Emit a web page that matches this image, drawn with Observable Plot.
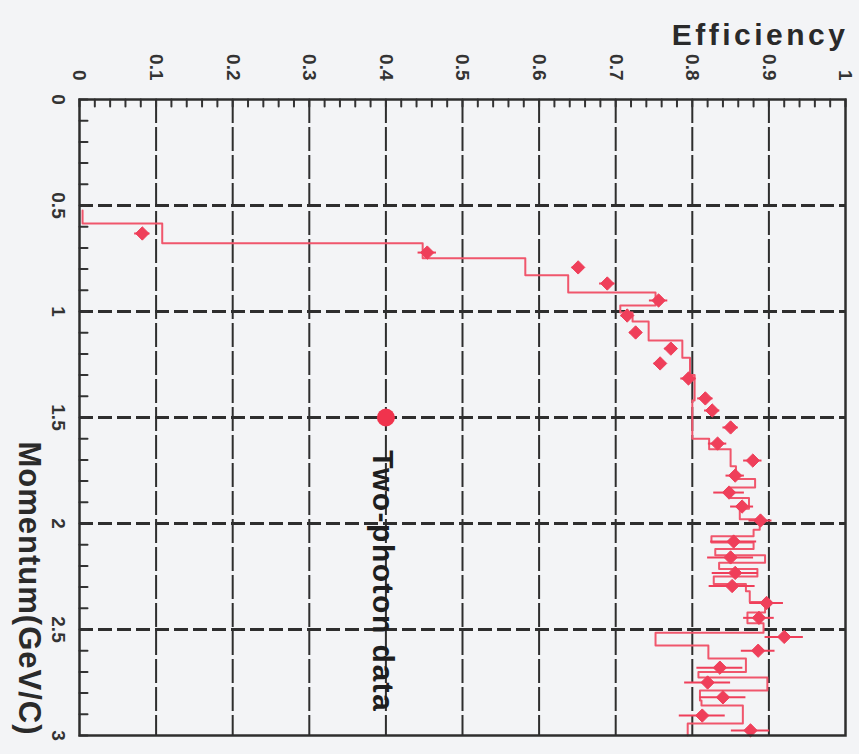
<!DOCTYPE html>
<html><head><meta charset="utf-8">
<script src="https://cdn.jsdelivr.net/npm/d3@7"></script>
<script src="https://cdn.jsdelivr.net/npm/@observablehq/plot@0.6"></script>
<style>html,body{margin:0;padding:0;background:#f3f4f6;overflow:hidden;}</style>
</head><body><div id="chart"></div>
<script>
// Axis ticks and labels
const effTicks = [0, 0.1, 0.2, 0.3, 0.4, 0.5, 0.6, 0.7, 0.8, 0.9, 1];
const effTickLabels = ["0", "0.1", "0.2", "0.3", "0.4", "0.5", "0.6", "0.7", "0.8", "0.9", "1"];
const momTicks = [0, 0.5, 1, 1.5, 2, 2.5, 3];
const momTickLabels = ["0", "0.5", "1", "1.5", "2", "2.5", "3"];
const effGrid = [0.1, 0.2, 0.3, 0.4, 0.5, 0.6, 0.7, 0.8, 0.9];
const momGrid = [0.5, 1, 1.5, 2, 2.5];
const xTitle = "Efficiency";
const yTitle = "Momentum(GeV/C)";

// Histogram (step line): bin edges in momentum and efficiency per bin
const histEdges = [0.524, 0.585, 0.678, 0.749, 0.829, 0.910, 0.972, 1.005, 1.047, 1.137, 1.218,
  1.300, 1.420, 1.600, 1.650, 1.730, 1.790, 1.830, 1.880, 1.930, 1.980, 2.030, 2.060,
  2.090, 2.120, 2.150, 2.185, 2.215, 2.250, 2.285, 2.320, 2.370, 2.420, 2.470, 2.515,
  2.575, 2.637, 2.700, 2.726, 2.788, 2.835, 2.858, 2.943, 3.0];
const histEff = [0.004, 0.108, 0.448, 0.582, 0.638, 0.752, 0.706, 0.722, 0.743, 0.787,
  0.797, 0.803, 0.800, 0.822, 0.850, 0.857, 0.882, 0.850, 0.874, 0.862, 0.888, 0.880,
  0.825, 0.880, 0.830, 0.895, 0.835, 0.885, 0.828, 0.870, 0.875, 0.895, 0.872, 0.893,
  0.752, 0.821, 0.870, 0.808, 0.898, 0.810, 0.812, 0.866, 0.794];

// Data points with efficiency errors
const markerP = [0.632, 0.722, 0.792, 0.868, 0.948, 1.019, 1.099, 1.175, 1.245, 1.316, 1.410,
  1.467, 1.547, 1.623, 1.703, 1.774, 1.854, 1.920, 1.986, 2.085, 2.160, 2.233, 2.295,
  2.375, 2.445, 2.535, 2.600, 2.680, 2.750, 2.820, 2.906, 2.976];
const markerEff = [0.082, 0.454, 0.651, 0.689, 0.756, 0.715, 0.726, 0.772, 0.758, 0.795, 0.817,
  0.826, 0.850, 0.833, 0.879, 0.856, 0.848, 0.865, 0.889, 0.854, 0.850, 0.856, 0.852,
  0.897, 0.887, 0.920, 0.886, 0.836, 0.820, 0.840, 0.813, 0.876];
const markerErr = [0.010, 0.012, 0.008, 0.010, 0.012, 0.008, 0.008, 0.008, 0.008, 0.010, 0.010,
  0.010, 0.010, 0.012, 0.012, 0.012, 0.020, 0.015, 0.015, 0.030, 0.030, 0.030, 0.030,
  0.022, 0.020, 0.025, 0.022, 0.030, 0.030, 0.030, 0.030, 0.025];

// Legend
const legendLabel = "Two-photon data";
const legendEff = 0.4, legendP = 1.5, legendTextP = 1.655;

// ---- build tables ----
const histPts = [];
histEff.forEach((e, i) => { histPts.push({e, p: histEdges[i]}); histPts.push({e, p: histEdges[i + 1]}); });
const markers = markerP.map((p, i) => ({p, e: markerEff[i], err: markerErr[i]}));
const effLabelData = effTicks.map((v, i) => ({v, t: effTickLabels[i]}));
const momLabelData = momTicks.map((v, i) => ({v, t: momTickLabels[i]}));
const effMinor = d3.range(0, 51).map(i => ({v: i / 50, a: 0}));
const momMinor = d3.range(0, 31).map(i => ({v: i / 10, a: 0}));
const tickShape = {draw(ctx, l) { ctx.moveTo(0, 0); ctx.lineTo(0, -l); }};

const W = 859, H = 754, mT = 99, mB = 19, mL = 79, mR = 14;
const red = "#ef3f5a", redLine = "#f0566c", ink = "#2e2e2e";
const font = "Liberation Sans, Arial, sans-serif";

const chart = Plot.plot({
  width: W, height: H,
  marginTop: mT, marginBottom: mB, marginLeft: mL, marginRight: mR,
  style: {background: "#f3f4f6", fontFamily: font, overflow: "visible"},
  x: {domain: [0, 1], axis: null},
  y: {domain: [0, 3], reverse: true, axis: null},
  marks: [
    Plot.ruleX(effGrid, {stroke: ink, strokeWidth: 2, strokeDasharray: "24,4"}),
    Plot.ruleY(momGrid, {stroke: ink, strokeWidth: 3, strokeDasharray: "14,5"}),
    Plot.vector(effMinor, {x: "v", y: "a", length: 7, rotate: 180, anchor: "start", shape: tickShape,
      stroke: "#333", strokeWidth: 2}),
    Plot.vector(momMinor, {x: "a", y: "v", length: 8, rotate: 90, anchor: "start", shape: tickShape,
      stroke: "#333", strokeWidth: 2}),
    Plot.line(histPts, {x: "e", y: "p", stroke: redLine, strokeWidth: 2}),
    Plot.ruleY(markers, {y: "p", x1: d => d.e - d.err, x2: d => d.e + d.err, stroke: red, strokeWidth: 2}),
    Plot.ruleX(markers, {x: "e", y1: d => d.p - 0.02, y2: d => d.p + 0.02, stroke: red, strokeWidth: 2}),
    Plot.dot(markers, {x: "e", y: "p", symbol: "diamond2", r: 6, fill: red, stroke: red, strokeWidth: 1}),
    Plot.frame({stroke: ink, strokeWidth: 2.5}),
    Plot.dot([0], {x: () => legendEff, y: () => legendP, r: 9, fill: "#f0334d"}),
    Plot.text([legendLabel], {x: () => legendEff, y: () => legendTextP, text: d => d, rotate: 90,
      textAnchor: "start", lineAnchor: "middle", dx: -3, fontSize: 30, fontWeight: "bold", fill: "#1e1e1e"}),
    Plot.text(effLabelData, {x: "v", text: "t", frameAnchor: "top", dy: -19, rotate: 90,
      textAnchor: "end", lineAnchor: "middle", fontSize: 19, fontWeight: "bold", fill: "#333"}),
    Plot.text(momLabelData, {y: "v", text: "t", frameAnchor: "left", dx: -21, rotate: 90,
      textAnchor: "middle", lineAnchor: "middle", fontSize: 19, fontWeight: "bold", fill: "#333"}),
    Plot.text([xTitle], {text: d => d, frameAnchor: "top-right", dx: 3, dy: -55,
      textAnchor: "end", lineAnchor: "bottom", fontSize: 30, fontWeight: "bold", fill: "#2a2a2a"}),
    Plot.text([yTitle], {text: d => d, frameAnchor: "bottom-left", dx: -51, dy: 0, rotate: 90,
      textAnchor: "end", lineAnchor: "middle", fontSize: 31, fontWeight: "bold", fill: "#2a2a2a"})
  ]
});
document.getElementById("chart").appendChild(chart);
d3.select(chart).selectAll("text").each(function () {
  const t = this.textContent;
  if (t === xTitle) d3.select(this).attr("letter-spacing", "3.5px");
  if (t === yTitle) d3.select(this).attr("letter-spacing", "1px");
  if (t === legendLabel) d3.select(this).attr("letter-spacing", "1.5px");
});
</script>
</body></html>
